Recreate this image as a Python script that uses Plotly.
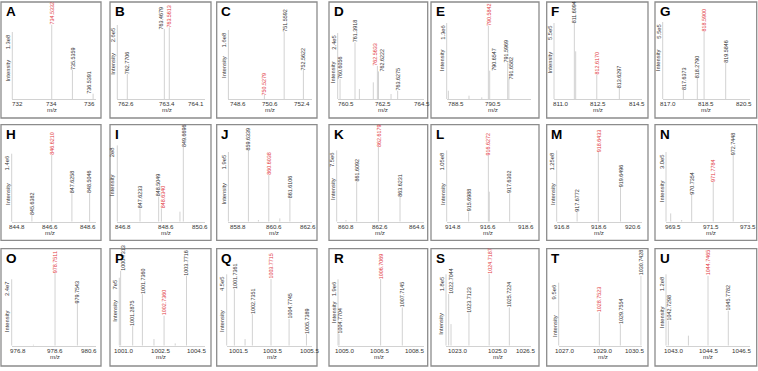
import plotly.graph_objects as go

W, H = 758, 371

panel_ids = list("ABCDEFGHIJKLMNOPQRSTU")

# labelled peaks (m/z) and relative intensity (% of axis height)
labeled_mz = [
    [734.5332, 735.5359, 736.5391],
    [762.7706, 763.4679, 763.5613],
    [750.5279, 751.5592, 752.5622],
    [760.6056, 761.3918, 762.5633, 762.6222, 763.6275],
    [790.5842, 790.6547, 791.5969, 791.6582],
    [811.6094, 812.6170, 813.6297],
    [817.6373, 818.2790, 818.5900, 819.5846],
    [845.6382, 846.6210, 847.6258, 848.5046],
    [847.6233, 848.5049, 848.6340, 849.6696],
    [859.6339, 860.6038, 861.6106],
    [861.6092, 862.6179, 863.6231],
    [915.6988, 916.6272, 917.6302],
    [917.6772, 918.6433, 919.6496],
    [970.7354, 971.7784, 972.7448],
    [978.7511, 979.7543],
    [1000.7313, 1001.2875, 1001.7360, 1002.7360, 1003.7716],
    [1001.7361, 1002.7351, 1003.7715, 1004.7745, 1005.7389],
    [1004.7704, 1006.7069, 1007.7145],
    [1022.7044, 1023.7123, 1024.7187, 1025.7224],
    [1028.7523, 1029.7554, 1030.7428],
    [1042.7298, 1044.7465, 1045.7782],
]
labeled_int = [
    [80.8, 31.9, 5.8],
    [27.2, 76.0, 77.9],
    [4.3, 73.2, 31.5],
    [21.7, 61.6, 36.0, 30.0, 9.0],
    [79.7, 30.8, 39.8, 21.7],
    [82.6, 26.4, 12.0],
    [10.1, 22.8, 73.5, 39.1],
    [7.2, 72.4, 30.8, 30.8],
    [14.5, 27.2, 14.5, 81.5],
    [77.8, 50.7, 25.3],
    [43.4, 81.5, 27.2],
    [10.9, 72.4, 30.8],
    [10.9, 76.0, 38.0],
    [29.0, 43.4, 72.4],
    [78.9, 46.3],
    [81.5, 21.7, 56.1, 32.6, 76.0],
    [61.5, 34.4, 72.4, 29.0, 12.7],
    [12.7, 72.4, 41.6],
    [56.1, 36.2, 77.8, 41.6],
    [36.2, 23.5, 76.0],
    [27.2, 76.0, 38.0],
]
highlight_mz = [734.5332, 763.5613, 750.5279, 762.5633, 790.5842, 812.6170, 818.5900,
                846.6210, 848.6340, 860.6038, 862.6179, 916.6272, 918.6433, 971.7784,
                978.7511, 1002.7360, 1003.7715, 1006.7069, 1024.7187, 1028.7523, 1044.7465]

# unlabelled minor peaks
minor_mz = [
    [], [], [],
    [761.62, 762.35, 763.28],
    [788.49, 789.57, 790.24],
    [811.67],
    [],
    [],
    [849.51],
    [860.11, 861.13],
    [861.11],
    [916.67],
    [],
    [969.72, 970.25],
    [977.78],
    [1002.27, 1003.25],
    [1002.33],
    [],
    [1022.82],
    [],
    [1043.75],
]
minor_int = [
    [], [], [],
    [10.9, 18.1, 5.4],
    [9.0, 3.6, 1.8],
    [51.8],
    [],
    [],
    [10.9],
    [1.8, 3.6],
    [1.8],
    [32.6],
    [],
    [9.0, 1.8],
    [1.1],
    [7.2, 2.5],
    [7.2],
    [],
    [23.5],
    [],
    [10.9],
]

intensity_max_labels = ["1.3e8", "2.6e5", "1.6e8", "2.4e5", "1.3e6", "5.5e5", "5.5e5",
                        "1.4e6", "2e8", "1.9e5", "7.5e6", "1.05e8", "1.25e8", "3.0e5",
                        "2.4e7", "7e5", "4.5e5", "1.9e6", "1.8e5", "9.5e6", "1.2e8"]

x_ranges = [
    [732.62, 736.68], [762.582, 764.234], [748.65, 752.995], [760.483, 765.008],
    [788.403, 792.817], [810.696, 814.634], [816.686, 820.703],
    [844.634, 848.822], [846.551, 850.694], [858.681, 862.648], [860.679, 864.739],
    [914.665, 918.636], [916.75, 920.614], [969.493, 973.557],
    [976.805, 980.59], [1000.67, 1004.625], [1001.31, 1006.03], [1004.724, 1008.724],
    [1022.571, 1026.80], [1026.81, 1030.776], [1042.611, 1046.881],
]
tick_vals = [
    [732.86, 734.53, 736.36], [762.739, 763.518, 764.058], [749.137, 750.824, 752.511],
    [760.903, 762.861, 764.923], [788.892, 790.846, 792.853], [810.995, 812.687, 814.409],
    [816.947, 818.680, 820.428],
    [844.915, 846.538, 848.442], [846.803, 848.834, 850.457], [859.157, 860.871, 862.459],
    [861.098, 862.695, 864.40], [914.948, 916.596, 918.40], [917.008, 918.689, 920.205],
    [969.816, 971.67, 973.477],
    [977.104, 978.751, 980.293], [1000.885, 1002.593, 1004.239], [1001.958, 1003.847, 1005.884],
    [1005.003, 1006.631, 1008.259], [1023.151, 1025.141, 1026.55], [1027.081, 1028.912, 1030.425],
    [1042.984, 1044.763, 1046.458],
]
tick_text = [
    ["732", "734", "736"], ["762.6", "763.4", "764.1"], ["748.6", "750.6", "752.4"],
    ["760.5", "762.5", "764.5"], ["788.5", "790.5", "792.5"], ["811.0", "812.5", "814.5"],
    ["817.0", "818.5", "820.5"],
    ["844.8", "846.6", "848.6"], ["846.8", "848.6", "850.6"], ["858.8", "860.6", "862.6"],
    ["860.8", "862.6", "864.6"], ["914.8", "916.6", "918.6"], ["916.8", "918.6", "920.6"],
    ["969.5", "971.5", "973.5"],
    ["976.8", "978.6", "980.6"], ["1001.0", "1002.5", "1004.5"], ["1001.5", "1003.5", "1005.5"],
    ["1005.0", "1006.5", "1008.5"], ["1023.0", "1025.0", "1026.5"], ["1027.0", "1029.0", "1030.5"],
    ["1043.0", "1044.5", "1046.5"],
]

# ---------------- layout (pixels) ----------------
col_left = [1, 110, 216.7, 329, 431, 546.7, 655]
col_right = [101, 211, 317, 427.7, 539, 648, 756.7]
row_top = [2, 124.7, 248.7]
row_bottom = [118, 240.3, 366]
axis_left = [11.3, 7.3, 11.7, 8.7, 15.7, 7.3, 7.7,
             10.7, 7.3, 11.7, 7.7, 15.7, 10, 11,
             10.7, 9.3, 10, 9, 15, 12, 11]
axis_right = [95, 95, 95, 95, 100, 95, 95] * 3
max_label_top = [30, 23, 28, 31, 21, 21, 20, 29, 20.7, 27.3, 25.7, 25.7, 25.7, 27.3,
                 30.6, 29, 25.6, 30.6, 25.6, 34, 25.6]
intensity_center = [68.7, 62, 65, 70, 58, 61, 58, 69, 60.7, 69, 64, 69, 69, 67,
                    72.3, 62.3, 72, 64, 75.6, 77, 69]
label_dx = [
    [0, 0, -4], [0, -3, 0], [0, 0, 0], [0, 0, -2.5, 3.5, 0], [0, 3.5, -1.5, 2.5],
    [0, 0, 0], [0, 0, 0, 0], [0, 0, 0, 0], [0, -1, 1.5, 0], [0, 0, 0], [0, 0, 0],
    [0, 0, 0], [0, 0, 0], [0, 0, 0], [0, 0], [3, 0, 0, 0, 0], [0, 0, 0, 0, 0],
    [1, 0, 0], [1.5, 0, 0, 0], [0, 0, 0], [1, 0, 0],
]
AX_BOTTOM = 97
AX_TOP = 5
PLOT_H = AX_BOTTOM - AX_TOP

FONT = "Liberation Sans, Arial, sans-serif"
PEAK_COLOR = "#d2d2d2"
TEXT_COLOR = "#333333"
RED = "#e23a3f"
AXIS_COLOR = "#d2d2d2"
FRAME_COLOR = "#8c8c8c"

fig = go.Figure()
annotations = []
shapes = []
lay = {}

for i in range(21):
    r, c = divmod(i, 7)
    n = i + 1
    sfx = "" if n == 1 else str(n)
    fl, fr = col_left[c], col_right[c]
    ft, fb = row_top[r], row_bottom[r]
    axl, axr = fl + axis_left[i], fl + axis_right[i]
    axb, axt = ft + AX_BOTTOM, ft + AX_TOP

    lay["xaxis" + sfx] = dict(domain=[axl / W, axr / W], range=x_ranges[i], anchor="y" + sfx,
                              showline=True, linecolor=AXIS_COLOR, linewidth=1,
                              showgrid=False, zeroline=False, showticklabels=False,
                              ticks="", fixedrange=True)
    lay["yaxis" + sfx] = dict(domain=[1 - axb / H, 1 - axt / H], range=[0, 100], anchor="x" + sfx,
                              showline=False, showgrid=False, zeroline=False,
                              showticklabels=False, ticks="", fixedrange=True)

    xs, ys = [], []
    for mz, h in list(zip(labeled_mz[i], labeled_int[i])) + list(zip(minor_mz[i], minor_int[i])):
        xs += [mz, mz, None]
        ys += [0, h, None]
    fig.add_trace(go.Scatter(x=xs, y=ys, mode="lines", xaxis="x" + sfx, yaxis="y" + sfx,
                             line=dict(color=PEAK_COLOR, width=1), hoverinfo="skip",
                             showlegend=False))

    # peak labels
    for k, (mz, h) in enumerate(zip(labeled_mz[i], labeled_int[i])):
        col = RED if abs(mz - highlight_mz[i]) < 1e-6 else TEXT_COLOR
        annotations.append(dict(x=mz, y=h, xref="x" + sfx, yref="y" + sfx,
                                text=f"{mz:.4f}", textangle=-90, showarrow=False,
                                xanchor="center", yanchor="bottom", yshift=-1,
                                xshift=label_dx[i][k], borderpad=0,
                                font=dict(family=FONT, size=5.4, color=col)))

    # x tick labels
    for tv, tt in zip(tick_vals[i], tick_text[i]):
        annotations.append(dict(x=tv, y=0, xref="x" + sfx, yref=f"y{sfx} domain",
                                text=tt, showarrow=False, xanchor="center", yanchor="middle",
                                yshift=-4.8, font=dict(family=FONT, size=6.2, color=TEXT_COLOR)))
    annotations.append(dict(x=tick_vals[i][1], y=0, xref="x" + sfx, yref=f"y{sfx} domain",
                            text="m/z", showarrow=False, xanchor="center", yanchor="middle",
                            yshift=-10.5, font=dict(family=FONT, size=6.2, color=TEXT_COLOR)))

    # y axis line (partial) and labels
    ytop_val = (AX_BOTTOM - max_label_top[i]) / PLOT_H * 100
    shapes.append(dict(type="line", xref=f"x{sfx} domain", yref="y" + sfx,
                       x0=0, x1=0, y0=0, y1=ytop_val,
                       line=dict(color=AXIS_COLOR, width=1)))
    annotations.append(dict(x=0, y=ytop_val, xref=f"x{sfx} domain", yref="y" + sfx,
                            text=intensity_max_labels[i], textangle=-90, showarrow=False,
                            xanchor="center", yanchor="top", xshift=-4.5,
                            font=dict(family=FONT, size=5.8, color=TEXT_COLOR)))
    yint = (AX_BOTTOM - intensity_center[i]) / PLOT_H * 100
    annotations.append(dict(x=0, y=yint, xref=f"x{sfx} domain", yref="y" + sfx,
                            text="Intensity", textangle=-90, showarrow=False,
                            xanchor="center", yanchor="middle", xshift=-4.5,
                            font=dict(family=FONT, size=5.8, color=TEXT_COLOR)))

    # frame + panel letter
    shapes.append(dict(type="rect", xref="paper", yref="paper",
                       x0=fl / W, x1=fr / W, y0=1 - fb / H, y1=1 - ft / H,
                       line=dict(color=FRAME_COLOR, width=1.3)))
    annotations.append(dict(x=(fl + 2.5) / W, y=1 - (ft + 0.5) / H, xref="paper", yref="paper",
                            text=f"<b>{panel_ids[i]}</b>", showarrow=False,
                            xanchor="left", yanchor="top",
                            font=dict(family=FONT, size=13.5, color="#000000")))

fig.update_layout(width=W, height=H, margin=dict(l=0, r=0, t=0, b=0),
                  paper_bgcolor="white", plot_bgcolor="white",
                  annotations=annotations, shapes=shapes, **lay)
fig.write_html("out.html")
